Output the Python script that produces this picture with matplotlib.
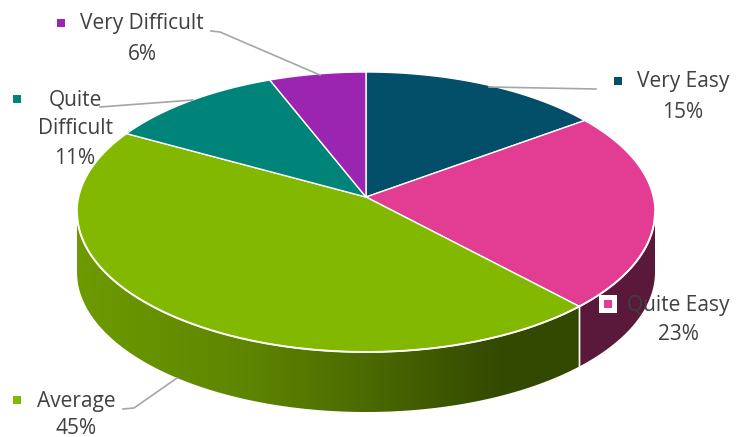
import numpy as np
import matplotlib.pyplot as plt
from matplotlib.patches import Polygon, Rectangle
from matplotlib.colors import to_rgb

# survey answers, clockwise from 12 o'clock
categories = ["Very Easy", "Quite Easy", "Average", "Quite Difficult", "Very Difficult"]
shares = [15, 23, 45, 11, 6]
label_lines = [["Very Easy"], ["Quite Easy"], ["Average"], ["Quite", "Difficult"], ["Very Difficult"]]
colors = ["#034e69", "#e23c93", "#82b800", "#00847a", "#9b24b0"]

# pie geometry in pixel units (y grows downwards)
cx, cy = 366, 212
rx, ry = 289, 140
depth = 60
tilt = 0.107  # perspective: pie centre sits above the ellipse centre

# label block: centre x, first line centre y, marker x, line gap
label_pos = [(683, 82, 618, 30), (678, 305, 608, 30), (76, 401, 17, 28),
             (75, 100, 17, 29), (142, 24, 61, 30)]
leaders = [
    [(489, 87), (596, 89)],
    None,
    [(123, 409), (134, 408), (177, 378)],
    [(100, 107), (193, 100)],
    [(211, 31), (220, 32), (320, 75)],
]


def rim(t_deg, dy=0):
    t = np.radians(t_deg)
    return np.column_stack([cx + rx * np.cos(t), cy - ry * np.sin(t) + dy])


def screen_angle(phi_deg):
    # map a true pie angle to the parameter angle on the drawn ellipse
    p = np.radians(phi_deg)
    d = 1 + tilt * np.sin(p)
    X = np.cos(p) * np.sqrt(1 - tilt ** 2) / d
    Y = (np.sin(p) + tilt) / d
    return np.degrees(np.unwrap(np.arctan2(Y, X)))


# shading of the front wall, brighter on the left
shade_x = [77, 250, 372, 450, 500, 760]
shade_f = [0.84, 0.72, 0.57, 0.46, 0.40, 0.40]

fig = plt.figure(figsize=(7.45, 4.37), dpi=100)
ax = fig.add_axes([0, 0, 1, 1])
ax.set_xlim(0, 745)
ax.set_ylim(437, 0)
ax.axis("off")

phis = 90 - 360 * np.concatenate([[0], np.cumsum(shares)]) / sum(shares)
bounds = screen_angle(phis)
apex = (cx, cy - ry * tilt)

# side walls (only the front half is visible)
xs = np.arange(0, 746)
fac = np.interp(xs, shade_x, shade_f)
for i, col in enumerate(colors):
    t0, t1 = bounds[i], bounds[i + 1]
    a, b = min(t0, 0), max(t1, -180)
    if a <= b:
        continue
    ts = np.linspace(a, b, 200)
    pts = np.vstack([rim(ts), rim(ts[::-1], depth)])
    img = np.clip(np.array(to_rgb(col))[None, None, :] * fac[None, :, None], 0, 1)
    im = ax.imshow(img, extent=[0, 745, 437, 0], aspect="auto", zorder=1, interpolation="bilinear")
    im.set_clip_path(Polygon(pts, closed=True, transform=ax.transData))
    # white seam where two walls meet
    for t in (a, b):
        if -180 < t < 0:
            seam = np.vstack([rim([t]), rim([t], depth)])
            ax.plot(seam[:, 0], seam[:, 1], color="white", lw=1.0, zorder=2)

# top faces
for i, col in enumerate(colors):
    ts = np.linspace(bounds[i], bounds[i + 1], 200)
    pts = np.vstack([apex, rim(ts)])
    ax.add_patch(Polygon(pts, closed=True, facecolor=col, edgecolor="white", lw=1.0, zorder=3))

front = rim(np.linspace(-180, 0, 300))
ax.plot(front[:, 0], front[:, 1], color="white", lw=1.4, zorder=4)

# leader lines
for seg in leaders:
    if seg is None:
        continue
    seg = np.array(seg)
    ax.plot(seg[:, 0], seg[:, 1], color="#a6a6a6", lw=1.2, zorder=5)

# data labels
font = dict(family=["Open Sans", "DejaVu Sans"], fontsize=15, color="#404040")
for i, (lines, v) in enumerate(zip(label_lines, shares)):
    x, y, mx, gap = label_pos[i]
    for k, s in enumerate(lines + [f"{v}%"]):
        ax.text(x, y + k * gap, s, ha="center", va="center", zorder=7, **font)
    if categories[i] == "Quite Easy":
        ax.add_patch(Rectangle((mx - 9, y - 10), 18, 18, facecolor="white", edgecolor="none", zorder=6))
    ax.add_patch(Rectangle((mx - 4, y - 5), 8, 8, facecolor=colors[i], edgecolor="none", zorder=6))

fig.savefig("out.png", dpi=100)
